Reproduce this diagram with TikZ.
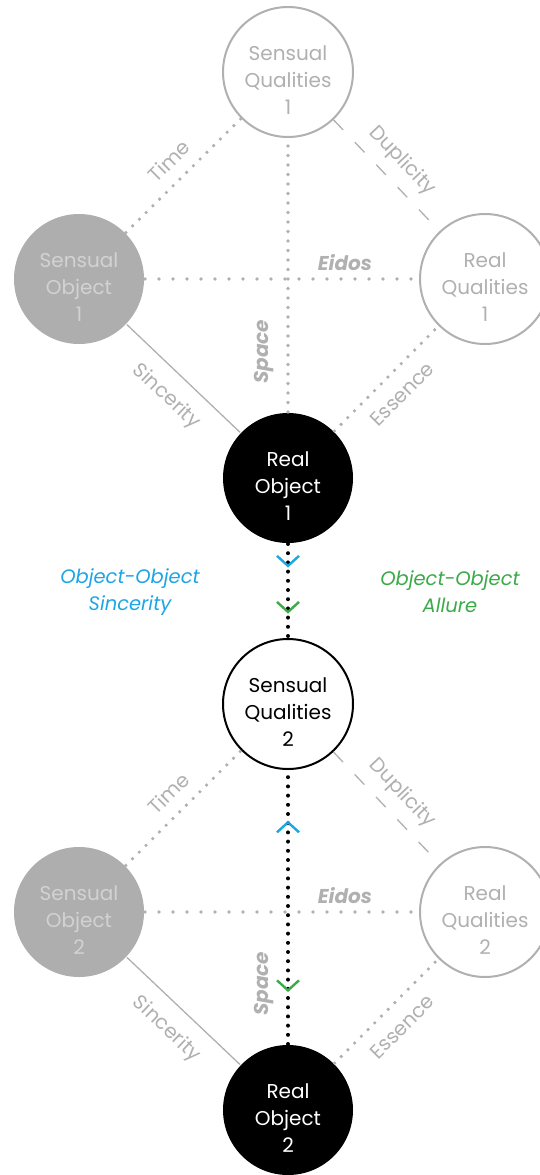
\documentclass[tikz,border=0pt]{standalone}
\usepackage{fontspec}
\setmainfont{Poppins}
\usetikzlibrary{arrows.meta}
\usetikzlibrary{decorations.markings}

\definecolor{greyline}{HTML}{B0B0B0}
\definecolor{sofill}{HTML}{AEAEAE}
\definecolor{sotext}{HTML}{D2D2D2}
\definecolor{sincblue}{HTML}{1DA6E3}
\definecolor{allgreen}{HTML}{3BAA48}

\newcommand{\toppad}{\rule{0pt}{30pt}}

\begin{document}
\begin{tikzpicture}[x=1pt,y=-1pt,
    thing/.style={circle,minimum size=130pt,inner sep=0pt,line width=2pt,align=center,
        font=\fontsize{20}{27}\selectfont},
    sensobj/.style={thing,fill=sofill,text=sotext},
    quals/.style={thing,draw=greyline,fill=white,text=greyline},
    realobj/.style={thing,fill=black,text=white},
    linklabel/.style={text=greyline,font=\fontsize{20}{22}\selectfont},
    boldlabel/.style={text=greyline,font=\fontsize{20}{22}\selectfont\bfseries\itshape},
    greydots/.style={greyline,line width=3.6pt,line cap=round,dash pattern=on 0pt off 9.5pt},
    widedots/.style={greyline,line width=3.6pt,line cap=round,dash pattern=on 0pt off 14pt},
    greydash/.style={greyline,line width=1.3pt,dash pattern=on 14pt off 17pt},
    greysolid/.style={greyline,line width=1.3pt},
    blackdots/.style={black,line width=4pt,line cap=round,dash pattern=on 0pt off 9.2pt},
    chev/.tip={Straight Barb[length=10pt,width=22pt,line width=2.4pt]}]

    \useasboundingbox (0,0) rectangle (540,1175);
    \clip (0,0) rectangle (540,1175);

    % first object
    \node[quals] (sq1) at (288,72) {\toppad Sensual\\Qualities\\1};
    \node[sensobj] (so1) at (79,279) {\toppad Sensual\\Object\\1};
    \node[quals] (rq1) at (485,279) {\toppad Real\\Qualities\\1};
    \node[realobj] (ro1) at (288,478) {\toppad Real\\Object\\1};

    \draw [greydots] (so1) -- node[above=8pt,sloped,linklabel] {Time} (sq1);
    \draw [greydash] (sq1) -- node[above=7pt,sloped,linklabel] {Duplicity} (rq1);
    \draw [widedots] (so1) -- node[pos=0.73,above=3pt,boldlabel] {Eidos} (rq1);
    \draw [greydots] (ro1) -- node[pos=0.22,above=9pt,sloped,boldlabel] {Space} (sq1);
    \draw [greysolid] (so1) -- node[below=11pt,sloped,linklabel] {Sincerity} (ro1);
    \draw [greydots] (ro1) -- node[below=10pt,sloped,linklabel] {Essence} (rq1);

    % second object
    \node[quals,draw=black,text=black] (sq2) at (288,704) {\toppad Sensual\\Qualities\\2};
    \node[sensobj] (so2) at (79,912) {\toppad Sensual\\Object\\2};
    \node[quals] (rq2) at (485,912) {\toppad Real\\Qualities\\2};
    \node[realobj] (ro2) at (288,1110) {\toppad Real\\Object\\2};

    \draw [greydots] (so2) -- node[above=8pt,sloped,linklabel] {Time} (sq2);
    \draw [greydash] (sq2) -- node[above=7pt,sloped,linklabel] {Duplicity} (rq2);
    \draw [widedots] (so2) -- node[pos=0.73,above=3pt,boldlabel] {Eidos} (rq2);
    \draw [greysolid] (so2) -- node[below=11pt,sloped,linklabel] {Sincerity} (ro2);
    \draw [greydots] (ro2) -- node[below=10pt,sloped,linklabel] {Essence} (rq2);

    % object-object links
    \draw [blackdots,postaction={decorate},decoration={markings,
        mark=at position 0.25 with {\arrow[sincblue]{chev}},
        mark=at position 0.74 with {\arrow[allgreen]{chev}}}] (ro1) -- (sq2);
    \draw [blackdots,postaction={decorate},decoration={markings,
        mark=at position 0.19 with {\arrowreversed[allgreen]{chev}},
        mark=at position 0.815 with {\arrow[sincblue]{chev}}}]
        (ro2) -- node[pos=0.22,above=9pt,sloped,boldlabel] {Space} (sq2);

    \node[text=sincblue,align=center,font=\fontsize{19.5}{27}\selectfont\itshape] (oosinc) at (130,592) {Object-Object\\Sincerity};
    \node[text=allgreen,align=center,font=\fontsize{19.5}{27}\selectfont\itshape] (ooallure) at (450,592) {Object-Object\\Allure};
\end{tikzpicture}
\end{document}
